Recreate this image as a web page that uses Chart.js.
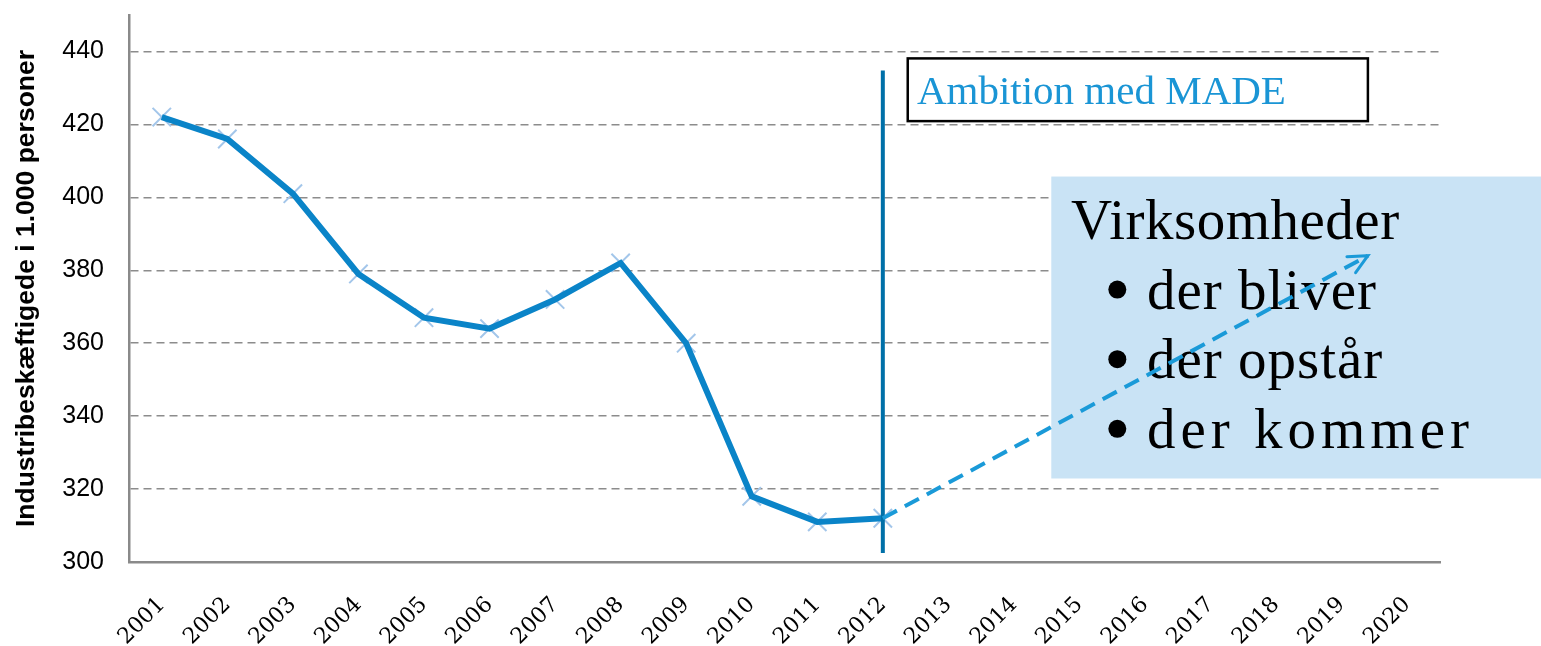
<!DOCTYPE html>
<html>
<head>
<meta charset="utf-8">
<script src="https://cdn.jsdelivr.net/npm/chart.js@4.4.1/dist/chart.umd.min.js"></script>
<style>
  html, body { margin: 0; padding: 0; background: #fff; }
  #wrap { width: 1541px; height: 646px; }
</style>
</head>
<body>
<div id="wrap"><canvas id="chart"></canvas></div>
<script>
// categories and values
const years = ['2001', '2002', '2003', '2004', '2005', '2006', '2007', '2008', '2009', '2010',
               '2011', '2012', '2013', '2014', '2015', '2016', '2017', '2018', '2019', '2020'];
const employment = [422, 416, 401, 379, 367, 364, 372, 382, 360, 318, 311, 312];

// vertical divider at 2012 (index 11) and the dashed "ambition" arrow
const dividerX = [11, 11];
const dividerY = [302.5, 434.8];
const ambitionX = [11, 18.4];
const ambitionY = [312, 384];

const yTicks = [300, 320, 340, 360, 380, 400, 420, 440];

const boxTitle = 'Ambition med MADE';
const boxLines = ['Virksomheder', 'der bliver', 'der opstår', 'der kommer'];

const pts = (xs, ys) => xs.map((x, i) => ({ x: x, y: ys[i] }));

// annotation boxes drawn below the lines
const boxesPlugin = {
    id: 'boxes',
    beforeDatasetsDraw(chart) {
        const ctx = chart.ctx;
        const xs = chart.scales.xl, ys = chart.scales.y;
        ctx.save();

        // light blue text box
        const bx1 = xs.getPixelForValue(13.57), by1 = ys.getPixelForValue(405.7);
        const by2 = ys.getPixelForValue(322.9);
        ctx.fillStyle = '#c9e3f5';
        ctx.fillRect(bx1, by1, chart.width - bx1, by2 - by1);

        ctx.fillStyle = '#000';
        ctx.font = '57px "Liberation Serif", serif';
        ctx.textBaseline = 'alphabetic';
        ctx.textAlign = 'left';
        const baselines = [388.5, 369.5, 350.4, 331.3];
        const spacing = ['0.5px', '1px', '1px', '5px'];
        for (let i = 0; i < boxLines.length; i++) {
            const by = ys.getPixelForValue(baselines[i]);
            ctx.letterSpacing = spacing[i];
            if (i === 0) {
                ctx.fillText(boxLines[0], xs.getPixelForValue(13.87), by);
                continue;
            }
            ctx.beginPath();
            ctx.arc(xs.getPixelForValue(14.44) + 9, by - 19, 9, 0, Math.PI * 2);
            ctx.fill();
            ctx.fillText(boxLines[i], xs.getPixelForValue(15.03), by);
        }
        ctx.letterSpacing = '0px';

        // white box with black border
        const ax1 = xs.getPixelForValue(11.38), ax2 = xs.getPixelForValue(18.40);
        const ay1 = ys.getPixelForValue(438.1), ay2 = ys.getPixelForValue(420.9);
        ctx.fillStyle = '#fff';
        ctx.fillRect(ax1, ay1, ax2 - ax1, ay2 - ay1);
        ctx.strokeStyle = '#000';
        ctx.lineWidth = 2.5;
        ctx.strokeRect(ax1, ay1, ax2 - ax1, ay2 - ay1);
        ctx.fillStyle = '#1a95d5';
        ctx.font = '41px "Liberation Serif", serif';
        ctx.fillText(boxTitle, xs.getPixelForValue(11.52), ys.getPixelForValue(425.6));
        ctx.restore();
    },
    afterDatasetsDraw(chart) {
        // open arrow head at the end of the dashed line
        const meta = chart.getDatasetMeta(3);
        const a = meta.data[0], b = meta.data[1];
        const ang = Math.atan2(b.y - a.y, b.x - a.x);
        const len = 21, spread = 0.45;
        const ctx = chart.ctx;
        ctx.save();
        ctx.strokeStyle = '#1a9ad8';
        ctx.lineWidth = 3;
        ctx.lineCap = 'round';
        ctx.beginPath();
        ctx.moveTo(b.x - len * Math.cos(ang - spread), b.y - len * Math.sin(ang - spread));
        ctx.lineTo(b.x, b.y);
        ctx.lineTo(b.x - len * Math.cos(ang + spread), b.y - len * Math.sin(ang + spread));
        ctx.stroke();
        ctx.restore();
    }
};

new Chart(document.getElementById('chart'), {
    type: 'line',
    data: {
        labels: years,
        datasets: [
            {
                // markers under the line
                data: employment,
                showLine: false,
                pointStyle: 'crossRot',
                pointRadius: 13,
                pointBorderWidth: 2,
                pointBorderColor: '#a3c6ea',
                order: 3
            },
            {
                data: employment,
                borderColor: '#0a84c8',
                borderWidth: 6,
                pointRadius: 0,
                tension: 0,
                order: 2
            },
            {
                data: pts(dividerX, dividerY),
                xAxisID: 'xl',
                borderColor: '#0070a8',
                borderWidth: 4,
                pointRadius: 0,
                order: 1
            },
            {
                data: pts(ambitionX, ambitionY),
                xAxisID: 'xl',
                borderColor: '#1a9ad8',
                borderWidth: 4,
                borderDash: [16, 9],
                pointRadius: 0,
                order: 0
            }
        ]
    },
    options: {
        responsive: true,
        maintainAspectRatio: false,
        animation: false,
        layout: { padding: { top: 12, right: 101, left: 0, bottom: 0 } },
        plugins: { legend: { display: false }, tooltip: { enabled: false } },
        scales: {
            x: {
                type: 'category',
                offset: true,
                grid: { display: false, drawTicks: false },
                border: { display: true, color: '#8a8a8a', width: 2.5 },
                ticks: {
                    color: '#000',
                    font: { family: '"DejaVu Serif", serif', size: 22 },
                    minRotation: 45,
                    maxRotation: 45,
                    padding: 30,
                    autoSkip: false
                },
                afterFit: s => { s.height = 84; s.paddingLeft = 0; s.paddingRight = 0; }
            },
            xl: {
                type: 'linear',
                display: false,
                min: -0.5,
                max: 19.5
            },
            y: {
                min: 300,
                max: 450,
                afterBuildTicks: s => { s.ticks = yTicks.map(v => ({ value: v })); },
                grid: {
                    drawTicks: false,
                    color: c => (c.tick && c.tick.value === 300) ? 'rgba(0,0,0,0)' : '#8c8c8c',
                    lineWidth: 1.5
                },
                border: { display: true, color: '#8a8a8a', width: 2.5, dash: [8, 5] },
                ticks: {
                    color: '#000',
                    font: { family: '"Liberation Sans", Arial, sans-serif', size: 25 },
                    padding: 25
                },
                title: {
                    display: true,
                    text: 'Industribeskæftigede i 1.000 personer',
                    color: '#000',
                    font: { family: '"Liberation Sans", Arial, sans-serif', size: 26.5, weight: 'bold' },
                    padding: { top: 11, bottom: 0 }
                },
                afterFit: s => { s.width = 129; s.paddingTop = 0; s.paddingBottom = 0; }
            }
        }
    },
    plugins: [boxesPlugin]
});
</script>
</body>
</html>
